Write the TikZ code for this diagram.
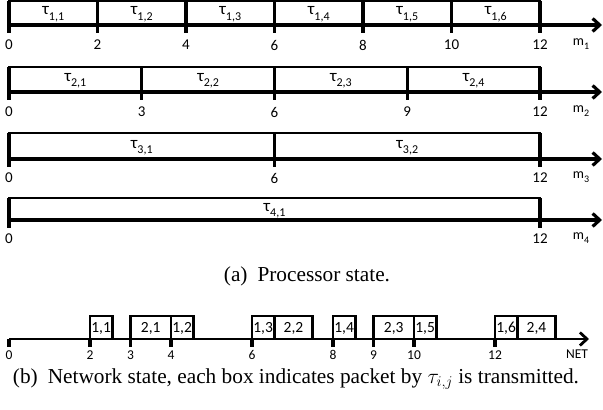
\documentclass[tikz,border=0pt]{standalone}
\usepackage{fix-cm}
\usepackage{fontspec}
\setmainfont{Liberation Serif}
\newfontfamily\carl{Carlito}
\usetikzlibrary{arrows.meta}
\newcommand{\taul}[1]{τ\raisebox{-0.3em}{\fontsize{12}{12}\selectfont #1}}
\begin{document}
\begin{tikzpicture}[x=1pt,y=-1pt,
  axisline/.style={line width=3.2pt,-{Straight Barb[length=7pt,width=13pt]}},
  netaxis/.style={line width=2.8pt,-{Straight Barb[length=7pt,width=13pt]}},
  boxline/.style={line width=2.8pt},
  divider/.style={line width=3.2pt},
  taulab/.style={font=\carl\fontsize{17}{17}\selectfont,inner sep=0pt},
  ticklab/.style={font=\carl\fontsize{15}{15}\selectfont,inner sep=0pt},
  mlab/.style={font=\carl\fontsize{14}{14}\selectfont,inner sep=0pt},
  pktlab/.style={font=\carl\fontsize{15.5}{15}\selectfont,inner sep=0pt},
  nettick/.style={font=\carl\fontsize{13.5}{13}\selectfont,inner sep=0pt},
  captext/.style={font=\fontsize{21.3}{24}\selectfont,inner sep=0pt}
]
\useasboundingbox (0,0) rectangle (603,410);
\def\ux{44.25}
\def\nx{40.5}
% ---------- processor rows ----------
\foreach \r/\T/\A/\L/\bounds in {
  1/0.5/25/45/{0,2,4,6,8,10,12},
  2/67/92/112/{0,3,6,9,12},
  3/133/159/178/{0,6,12},
  4/198/220/239/{0,12}}{
  \coordinate (s\r) at (9,\A);
  \coordinate (e\r) at (602,\A);
  \coordinate (tl\r) at (9,\T);
  \coordinate (br\r) at ({9+12*\ux},\A);
  \draw[boxline] (tl\r) rectangle (br\r);
  \foreach \b in \bounds {
    \coordinate (bt\r-\b) at ({9+\b*\ux},\T);
    \coordinate (bb\r-\b) at ({9+\b*\ux},\A+8);
    \draw[divider] (bt\r-\b) -- (bb\r-\b);
    \node[ticklab] (t\r-\b) at ({9+\b*\ux},\L) {\b};
  }
  \draw[axisline] (s\r) -- (e\r);
  \node[mlab] (m\r) at (581,\L-1) {m\raisebox{-0.25em}{\fontsize{10}{10}\selectfont\r}};
}
% tau labels
\foreach \r/\n/\w/\Tt/\Aa in {1/6/2/0.5/25,2/4/3/67/92,3/2/6/133/159,4/1/12/198/220}{
  \foreach \j in {1,...,\n}{
    \node[taulab] (tau\r-\j) at ({9+(\j-0.5)*\w*\ux},{(\Tt+\Aa)/2+1.5}) {\taul{\r,\j}};
  }
}
\node[captext] (capa) at (307,276) {(a)\hspace{10pt}Processor state.};
% ---------- network ----------
\coordinate (ns) at (9,339);
\coordinate (ne) at (589,339);
\foreach \b in {0,2,3,4,6,8,9,10,12}{
  \coordinate (na\b) at ({9+\b*\nx},339);
  \coordinate (nb\b) at ({9+\b*\nx},347);
  \draw[divider] (na\b) -- (nb\b);
  \node[nettick] (nt\b) at ({9+\b*\nx},355) {\b};
}
\foreach \a/\b/\t [count=\k] in {2/2.55/{1,1},3/4/{2,1},4/4.55/{1,2},6/6.55/{1,3},6.55/7.5/{2,2},8/8.55/{1,4},9/10/{2,3},10/10.55/{1,5},12/12.55/{1,6},12.55/13.5/{2,4}}{
  \coordinate (p\k a) at ({9+\a*\nx},316);
  \coordinate (p\k b) at ({9+\b*\nx},339);
  \draw[boxline] (p\k a) rectangle (p\k b);
  \node[pktlab] (pl\k) at ({9+(\a+\b)/2*\nx},328) {\t};
}
\draw[netaxis] (ns) -- (ne);
\node[nettick] (net) at (577,354) {NET};
\node[captext] (capb) at (296,379) {(b)\hspace{10pt}Network state, each box indicates packet by $\tau_{i,j}$ is transmitted.};
\end{tikzpicture}
\end{document}
